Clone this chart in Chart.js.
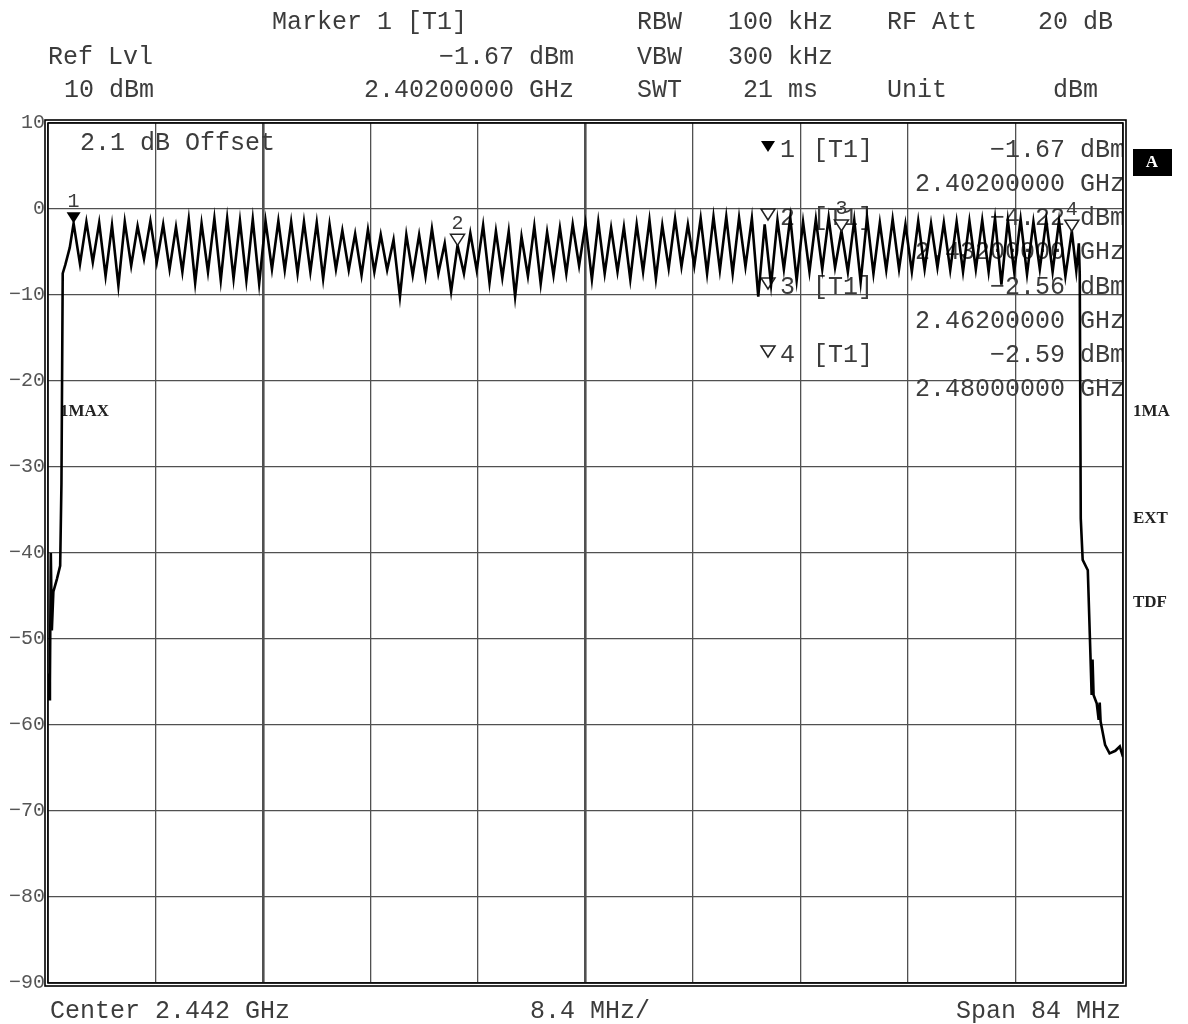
<!DOCTYPE html>
<html>
<head>
<meta charset="utf-8">
<title>Spectrum 2.4 GHz</title>
<script src="https://cdn.jsdelivr.net/npm/chart.js@4.4.1/dist/chart.umd.min.js"></script>
<style>
  html, body { margin: 0; padding: 0; background: #fff; }
  #wrap { width: 1188px; height: 1024px; }
</style>
</head>
<body>
<div id="wrap"><canvas id="spectrum" width="1188" height="1024"></canvas></div>
<script>
// sweep 2.400 .. 2.484 GHz (center 2.442, span 84 MHz), level in dBm
const startMHz = 2400;
const stopMHz = 2484;
const firstChannelMHz = 2402;

// peak level on each hop channel, 2402 .. 2480 MHz
const peakLevels = [
  -1.67, -1.5, -1.6, -1.9, -1.5, -2.0, -1.4, -1.8, -2.1, -1.2,
  -1.7, -1.1, -1.1, -1.4, -1.2, -1.4, -1.4, -1.5, -1.5, -1.6,
  -1.8, -2.5, -2.9, -2.4, -3.0, -3.6, -3.0, -3.0, -2.3, -4.0,
  -4.22, -2.8, -1.9, -2.6, -2.6, -3.2, -2.0, -2.7, -2.2, -1.8,
  -1.7, -1.5, -2.2, -2.1, -1.8, -1.3, -1.9, -1.1, -1.8, -1.1,
  -0.9, -0.9, -1.0, -1.1, -1.8, -1.3, -1.0, -1.5, -1.2, -1.0,
  -2.56, -1.3, -1.0, -1.6, -1.2, -1.8, -1.4, -1.7, -1.6, -1.5,
  -1.4, -1.3, -1.1, -1.3, -1.2, -1.5, -1.3, -1.4, -2.59
];
// dip between channel n and n+1
const troughLevels = [
  -6.4, -6.2, -7.8, -8.9, -6.6, -5.8, -6.2, -7.0, -7.3, -8.6,
  -7.3, -8.3, -8.1, -8.3, -8.7, -7.0, -7.1, -7.5, -7.3, -8.1,
  -7.0, -7.1, -7.7, -7.3, -7.1, -10.2, -7.7, -7.8, -7.5, -9.6,
  -7.5, -7.1, -8.6, -8.0, -10.2, -7.8, -8.7, -7.7, -7.5, -6.6,
  -8.2, -7.5, -7.3, -8.2, -7.3, -8.1, -6.9, -6.7, -6.6, -7.5,
  -7.1, -7.5, -6.7, -10.2, -8.8, -7.0, -8.3, -7.3, -7.0, -6.8,
  -7.3, -8.5, -7.5, -7.1, -7.0, -7.3, -7.0, -6.8, -7.1, -7.3,
  -7.0, -7.3, -8.8, -7.3, -7.6, -7.0, -7.3, -7.8
];
// band edges
const leftEdgeMHz = [2400.0, 2400.08, 2400.15, 2400.22, 2400.3, 2400.42, 2400.7, 2400.95, 2401.05, 2401.15, 2401.35, 2401.7];
const leftEdgeLevels = [-54, -57, -55, -40, -49, -44.5, -43, -41.5, -32, -7.5, -6.5, -4.5];
const rightEdgeMHz = [2480.35, 2480.55, 2480.62, 2480.7, 2480.85, 2481.25, 2481.45, 2481.55, 2481.62, 2481.7, 2481.95, 2482.1, 2482.18, 2482.25, 2482.6, 2482.95, 2483.4, 2483.75, 2484.0];
const rightEdgeLevels = [-7.2, -4.0, -7.5, -36, -40.8, -42, -51.6, -56.5, -52.4, -56.5, -57.5, -59.4, -57.4, -59.6, -62.3, -63.3, -63, -62.5, -63.7];

// markers
const markerMHz = [2402, 2432, 2462, 2480];
const markerLevels = [-1.67, -4.22, -2.56, -2.59];
const markerFreqText = ["2.40200000 GHz", "2.43200000 GHz", "2.46200000 GHz", "2.48000000 GHz"];

const gridMHz = Array.from({length: 11}, (_, i) => startMHz + i * (stopMHz - startMHz) / 10);

const trace = [];
leftEdgeMHz.forEach((f, i) => trace.push({x: f, y: leftEdgeLevels[i]}));
peakLevels.forEach((lvl, n) => {
    const f = firstChannelMHz + n;
    trace.push({x: f, y: lvl});
    if (n < troughLevels.length) trace.push({x: f + 0.5, y: troughLevels[n]});
});
rightEdgeMHz.forEach((f, i) => trace.push({x: f, y: rightEdgeLevels[i]}));

const MONO = '"Liberation Mono", "DejaVu Sans Mono", monospace';
const SERIF_B = 'bold 17px "Liberation Serif", "DejaVu Serif", serif';
const TXT = '#3c3c3c';
const minus = s => s.replace(/-/g, '\u2212');

function put(ctx, text, x, y, align) {
    ctx.textAlign = align || 'left';
    ctx.fillText(text, x, y);
}

function tri(ctx, x, tipY, filled) {
    ctx.beginPath();
    ctx.moveTo(x - 7, tipY - 11);
    ctx.lineTo(x + 7, tipY - 11);
    ctx.lineTo(x, tipY);
    ctx.closePath();
    if (filled) {
        ctx.fillStyle = '#000';
        ctx.fill();
    } else {
        ctx.fillStyle = '#fff';
        ctx.fill();
        ctx.lineWidth = 1.5;
        ctx.strokeStyle = '#222';
        ctx.stroke();
    }
}

const overlay = {
    id: 'overlay',
    beforeDatasetsDraw(chart) {
        const ctx = chart.ctx;
        const a = chart.chartArea;
        ctx.save();
        ctx.beginPath();
        ctx.rect(a.left, a.top, a.right - a.left, a.bottom - a.top);
        ctx.clip();
        ctx.fillStyle = TXT;
        ctx.textBaseline = 'middle';
        ctx.font = '25px ' + MONO;
        put(ctx, '2.1 dB Offset', 80, 143);
        // marker table
        const rowY = [150, 218, 287, 355];
        markerMHz.forEach((f, i) => {
            const y = rowY[i];
            tri(ctx, 768, y + 2, i === 0);
            ctx.fillStyle = TXT;
            ctx.font = '25px ' + MONO;
            put(ctx, String(i + 1), 780, y);
            put(ctx, '[T1]', 813, y);
            put(ctx, minus(markerLevels[i].toFixed(2)) + ' dBm', 1125, y, 'right');
            put(ctx, markerFreqText[i], 1125, y + 34, 'right');
        });
        ctx.font = SERIF_B;
        ctx.fillStyle = '#222';
        put(ctx, '1MAX', 60, 412);
        ctx.restore();
    },
    afterDatasetsDraw(chart) {
        const ctx = chart.ctx;
        const a = chart.chartArea;
        const xs = chart.scales.x, ys = chart.scales.y;
        ctx.save();
        // marker symbols on the trace
        markerMHz.forEach((f, i) => {
            const px = xs.getPixelForValue(f);
            const py = ys.getPixelForValue(markerLevels[i]);
            tri(ctx, px, py, i === 0);
            ctx.fillStyle = TXT;
            ctx.font = '20px ' + MONO;
            ctx.textBaseline = 'middle';
            put(ctx, String(i + 1), px, py - 22, 'center');
        });
        // double frame
        ctx.strokeStyle = '#000';
        ctx.lineWidth = 1.6;
        ctx.strokeRect(a.left, a.top, a.right - a.left, a.bottom - a.top);
        ctx.strokeRect(a.left - 3, a.top - 3, a.right - a.left + 6, a.bottom - a.top + 6);
        ctx.restore();
    },
    afterDraw(chart) {
        const ctx = chart.ctx;
        ctx.save();
        ctx.fillStyle = TXT;
        ctx.textBaseline = 'middle';
        ctx.font = '25px ' + MONO;
        // header
        put(ctx, 'Marker 1 [T1]', 272, 22);
        put(ctx, 'RBW', 637, 22);
        put(ctx, '100 kHz', 728, 22);
        put(ctx, 'RF Att', 887, 22);
        put(ctx, '20 dB', 1038, 22);
        put(ctx, 'Ref Lvl', 48, 57);
        put(ctx, minus('-1.67 dBm'), 574, 57, 'right');
        put(ctx, 'VBW', 637, 57);
        put(ctx, '300 kHz', 728, 57);
        put(ctx, '10 dBm', 64, 90);
        put(ctx, '2.40200000 GHz', 574, 90, 'right');
        put(ctx, 'SWT', 637, 90);
        put(ctx, '21 ms', 743, 90);
        put(ctx, 'Unit', 887, 90);
        put(ctx, 'dBm', 1053, 90);
        // footer
        put(ctx, 'Center 2.442 GHz', 50, 1011);
        put(ctx, '8.4 MHz/', 530, 1011);
        put(ctx, 'Span 84 MHz', 1121, 1011, 'right');
        // side labels
        ctx.fillStyle = '#000';
        ctx.fillRect(1133, 149, 39, 27);
        ctx.font = SERIF_B;
        ctx.fillStyle = '#fff';
        put(ctx, 'A', 1152, 163, 'center');
        ctx.fillStyle = '#222';
        put(ctx, '1MA', 1133, 412);
        put(ctx, 'EXT', 1133, 519);
        put(ctx, 'TDF', 1133, 603);
        ctx.restore();
    }
};

new Chart(document.getElementById('spectrum'), {
    type: 'line',
    data: {
        datasets: [{
            data: trace,
            borderColor: '#000',
            borderWidth: 2.6,
            pointRadius: 0,
            tension: 0,
            fill: false
        }]
    },
    options: {
        responsive: false,
        animation: false,
        devicePixelRatio: 1,
        parsing: false,
        layout: { padding: { top: 123, right: 65, bottom: 41, left: 0 } },
        plugins: { legend: { display: false }, tooltip: { enabled: false } },
        scales: {
            x: {
                type: 'linear',
                min: startMHz,
                max: stopMHz,
                afterBuildTicks: s => { s.ticks = gridMHz.map(v => ({value: v})); },
                afterFit: s => { s.height = 0; },
                ticks: { display: false },
                border: { display: false },
                grid: {
                    drawTicks: false,
                    color: '#505050',
                    lineWidth: c => (c.index === 2 || c.index === 5) ? 2.6 : 1.3
                }
            },
            y: {
                min: -90,
                max: 10,
                afterFit: s => { s.width = 48; },
                ticks: {
                    stepSize: 10,
                    padding: 3,
                    color: '#555',
                    font: { family: MONO, size: 20 },
                    callback: v => minus(String(v))
                },
                border: { display: false },
                grid: { drawTicks: false, color: '#505050', lineWidth: 1.3 }
            }
        }
    },
    plugins: [overlay]
});
</script>
</body>
</html>
